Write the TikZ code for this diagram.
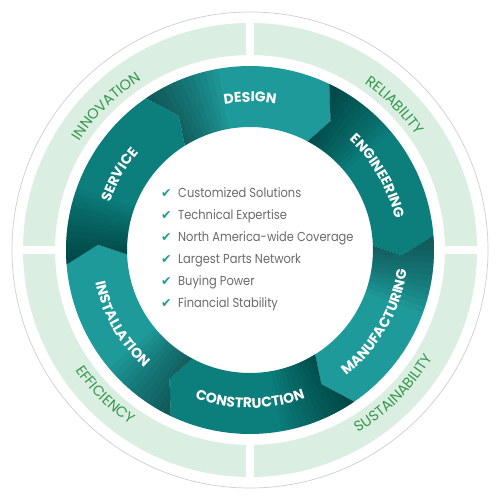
\documentclass[tikz,border=0pt]{standalone}
\usepackage{fontspec}
\setmainfont{Poppins}
\newfontfamily\listfont{Poppins}[FakeStretch=0.88]
\newfontfamily\chkfont{DejaVu Sans}
\usetikzlibrary{decorations.text}
\definecolor{tealL}{HTML}{1F9A9A}
\definecolor{tealD}{HTML}{0C7E7C}
\definecolor{ringgreen}{HTML}{DAEEE2}
\definecolor{labgreen}{HTML}{35984C}
\definecolor{listgray}{HTML}{6A6A6A}
\definecolor{circgray}{HTML}{CFCFCF}
\def\segpath#1{(#1+66.5:184pt) arc[start angle=#1+66.5, end angle=#1+6.5, radius=184pt] -- (#1:152pt) -- (#1+4:123pt) arc[start angle=#1+4, end angle=#1+64, radius=123pt] -- (#1+60:152pt) -- cycle}
\newcommand\segfont{\bfseries\fontsize{14}{14}\selectfont\color{white}}
\newcommand\ringfont{\fontsize{14.5}{14.5}\selectfont\color{labgreen}}
\begin{document}
\begin{tikzpicture}[x=1pt,y=1pt,
  listitem/.style={anchor=base west, text=listgray, font=\listfont\fontsize{13}{13}\selectfont, inner sep=0pt},
  chk/.style={anchor=base west, text=tealL, font=\chkfont\fontsize{12.5}{12.5}\selectfont, inner sep=0pt}]
\useasboundingbox (-250,-250) rectangle (250,250);
\fill[white] (-250,-250) rectangle (250,250);
\draw[circgray, line width=0.7pt] (0,0) circle[radius=238pt];
\fill[ringgreen, even odd rule] (0,0) circle[radius=227pt] (0,0) circle[radius=195pt];
\fill[white] (-4,-232) rectangle (4,232);
\fill[white] (-232,-4) rectangle (232,4);
% segments
\foreach \T/\col in {58/tealL, -2/tealD, -62/tealL, -122/tealD, -182/tealL, 118/tealD} {
  \begin{scope}
    \clip \segpath{\T};
    \fill[\col] (-200,-200) rectangle (200,200);
    \foreach \j in {1,...,12} {
      \fill[black, opacity=0.04] (0,0) -- (\T+72:200pt) arc[start angle=\T+72, end angle=\T+66-2*\j, radius=200pt] -- cycle;
    }
  \end{scope}
}
% segment labels
\path[decorate, decoration={text along path, text align=center, text={|\segfont|DESIGN}}] (130:148pt) arc[start angle=130, end angle=50, radius=148pt];
\path[decorate, decoration={text along path, text align=center, text={|\segfont|ENGINEERING}}] (70:148pt) arc[start angle=70, end angle=-10, radius=148pt];
\path[decorate, decoration={text along path, text align=center, text={|\segfont|MANUFACTURING}}] (-70:158pt) arc[start angle=-70, end angle=10, radius=158pt];
\path[decorate, decoration={text along path, text align=center, text={|\segfont|CONSTRUCTION}}] (-130:158pt) arc[start angle=-130, end angle=-50, radius=158pt];
\path[decorate, decoration={text along path, text align=center, text={|\segfont|INSTALLATION}}] (170:158pt) arc[start angle=170, end angle=250, radius=158pt];
\path[decorate, decoration={text along path, text align=center, text={|\segfont|SERVICE}}] (190:148pt) arc[start angle=190, end angle=110, radius=148pt];
% ring labels
\path[decorate, decoration={text along path, text align=center, text={|\ringfont|INNOVATION}}] (170:202pt) arc[start angle=170, end angle=100, radius=202pt];
\path[decorate, decoration={text along path, text align=center, text={|\ringfont|RELIABILITY}}] (80:202pt) arc[start angle=80, end angle=10, radius=202pt];
\path[decorate, decoration={text along path, text align=center, text={|\ringfont|SUSTAINABILITY}}] (-80:212pt) arc[start angle=-80, end angle=-10, radius=212pt];
\path[decorate, decoration={text along path, text align=center, text={|\ringfont|EFFICIENCY}}] (190:212pt) arc[start angle=190, end angle=260, radius=212pt];
% list
\node[chk] (c1) at (-89,52) {✔};
\node[chk] (c2) at (-89,30) {✔};
\node[chk] (c3) at (-89,8) {✔};
\node[chk] (c4) at (-89,-14) {✔};
\node[chk] (c5) at (-89,-36) {✔};
\node[chk] (c6) at (-89,-58) {✔};
\node[listitem] (l1) at (-72,52) {Customized Solutions};
\node[listitem] (l2) at (-72,30) {Technical Expertise};
\node[listitem] (l3) at (-72,8) {North America-wide Coverage};
\node[listitem] (l4) at (-72,-14) {Largest Parts Network};
\node[listitem] (l5) at (-72,-36) {Buying Power};
\node[listitem] (l6) at (-72,-58) {Financial Stability};
\end{tikzpicture}
\end{document}
